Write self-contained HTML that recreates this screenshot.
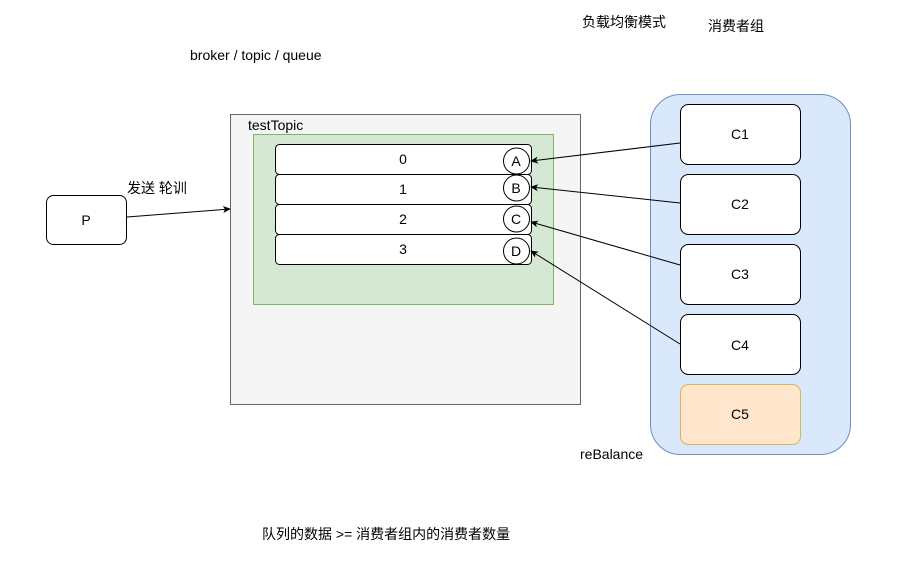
<!DOCTYPE html>
<html><head><meta charset="utf-8"><style>
body{margin:0;background:#fff;}
svg text{font-family:"Liberation Sans","Noto Sans CJK SC",sans-serif;font-size:14px;fill:#000;}
</style></head><body>
<svg width="916" height="558" xmlns="http://www.w3.org/2000/svg">
<defs><marker id="a" markerWidth="8" markerHeight="8" refX="7" refY="4" orient="auto" markerUnits="userSpaceOnUse"><path d="M0,0.5 L8,4 L0,7.5 L2,4 Z" fill="#000"/></marker></defs>
<rect width="916" height="558" fill="#fff"/>
<text x="582" y="27">负载均衡模式</text>
<text x="708" y="31">消费者组</text>
<text x="190" y="60">broker / topic / queue</text>
<rect x="230.5" y="114.5" width="350" height="290" fill="#f5f5f5" stroke="#666"/>
<text x="248" y="130">testTopic</text>
<rect x="253.5" y="134.5" width="300" height="170" fill="#d5e8d4" stroke="#82b366"/>
<g stroke="#000" fill="#fff">
<rect x="275.5" y="144.5" width="256" height="30" rx="4"/>
<rect x="275.5" y="174.5" width="256" height="30" rx="4"/>
<rect x="275.5" y="204.5" width="256" height="30" rx="4"/>
<rect x="275.5" y="234.5" width="256" height="30" rx="4"/>
<circle cx="516.5" cy="161" r="13"/>
<circle cx="516.5" cy="188" r="13"/>
<circle cx="516.5" cy="219" r="13"/>
<circle cx="516.5" cy="251" r="13"/>
</g>
<g text-anchor="middle">
<text x="403" y="164">0</text><text x="403" y="194">1</text><text x="403" y="224">2</text><text x="403" y="254">3</text>
<text x="516" y="166">A</text><text x="516" y="193">B</text><text x="516" y="224">C</text><text x="516" y="256">D</text>
</g>
<rect x="46.5" y="195.5" width="80" height="49" rx="7" fill="#fff" stroke="#000"/>
<text x="86" y="225" text-anchor="middle">P</text>
<text x="127" y="193">发送 轮训</text>
<line x1="127" y1="217" x2="230" y2="209" stroke="#000" marker-end="url(#a)"/>
<rect x="650.5" y="94.5" width="200" height="360" rx="30" fill="#dae8fc" stroke="#6c8ebf"/>
<g stroke="#000" fill="#fff">
<rect x="680.5" y="104.5" width="120" height="60" rx="8"/>
<rect x="680.5" y="174.5" width="120" height="60" rx="8"/>
<rect x="680.5" y="244.5" width="120" height="60" rx="8"/>
<rect x="680.5" y="314.5" width="120" height="60" rx="8"/>
</g>
<rect x="680.5" y="384.5" width="120" height="60" rx="8" fill="#ffe6cc" stroke="#d6b656"/>
<g text-anchor="middle">
<text x="740" y="139">C1</text><text x="740" y="209">C2</text><text x="740" y="279">C3</text><text x="740" y="350">C4</text><text x="740" y="419">C5</text>
</g>
<g stroke="#000" marker-end="url(#a)">
<line x1="680" y1="143" x2="531" y2="161"/>
<line x1="680" y1="203" x2="531" y2="187"/>
<line x1="680" y1="265" x2="531" y2="222"/>
<line x1="680" y1="344" x2="531" y2="251"/>
</g>
<text x="580" y="459">reBalance</text>
<text x="262" y="539">队列的数据 &gt;= 消费者组内的消费者数量</text>
</svg>
</body></html>
